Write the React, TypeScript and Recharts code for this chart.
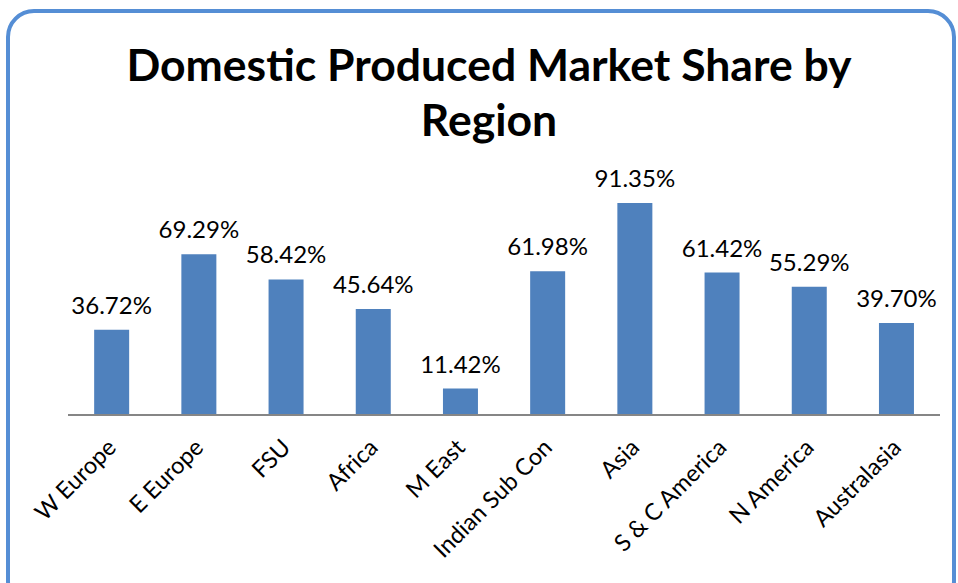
import { Bar, BarChart, LabelList, XAxis, YAxis } from 'recharts';

const regions = [
  'W Europe',
  'E Europe',
  'FSU',
  'Africa',
  'M East',
  'Indian Sub Con',
  'Asia',
  'S & C America',
  'N America',
  'Australasia',
];
const shares = [36.72, 69.29, 58.42, 45.64, 11.42, 61.98, 91.35, 61.42, 55.29, 39.7];

const data = regions.map((region, i) => ({ region, share: shares[i] }));

const FONT = 'Lato, "Open Sans", sans-serif';

interface TickProps {
  x?: number;
  y?: number;
  payload?: { value: string };
}

function RegionTick({ x = 0, y = 0, payload }: TickProps) {
  return (
    <g transform={`translate(${x + 6},${y + 26})`}>
      <text
        transform="rotate(-45)"
        textAnchor="end"
        fill="#000"
        fontSize={23.5}
        fontFamily={FONT}
      >
        {payload?.value}
      </text>
    </g>
  );
}

export default function App() {
  return (
    <div style={{ position: 'absolute', left: 0, top: 0, width: 958, height: 583, overflow: 'hidden', background: '#fff' }}>
      <div
        style={{
          position: 'absolute',
          left: 6,
          top: 9,
          width: 950,
          height: 600,
          border: '4px solid #558ED5',
          borderRadius: 28,
          boxSizing: 'border-box',
        }}
      />
      <div
        style={{
          position: 'absolute',
          left: 0,
          top: 36,
          width: 978,
          textAlign: 'center',
          fontFamily: FONT,
          fontWeight: 700,
          fontSize: 44.5,
          lineHeight: '55px',
          color: '#000',
        }}
      >
        Domestic Produced Market Share by
        <br />
        Region
      </div>
      <BarChart
        width={958}
        height={583}
        data={data}
        margin={{ top: 183, right: 18, bottom: 0, left: 68 }}
        barCategoryGap="30%"
        style={{ position: 'absolute', left: 0, top: 0 }}
      >
        <YAxis hide domain={[0, 100]} />
        <XAxis
          dataKey="region"
          interval={0}
          tickLine={false}
          axisLine={{ stroke: '#868686', strokeWidth: 2 }}
          tick={<RegionTick />}
          height={168}
        />
        <Bar dataKey="share" fill="#4F81BD" isAnimationActive={false}>
          <LabelList
            dataKey="share"
            position="top"
            offset={16}
            formatter={(v: number) => `${v.toFixed(2)}%`}
            fill="#000"
            fontSize={24}
            fontFamily={FONT}
          />
        </Bar>
      </BarChart>
    </div>
  );
}
